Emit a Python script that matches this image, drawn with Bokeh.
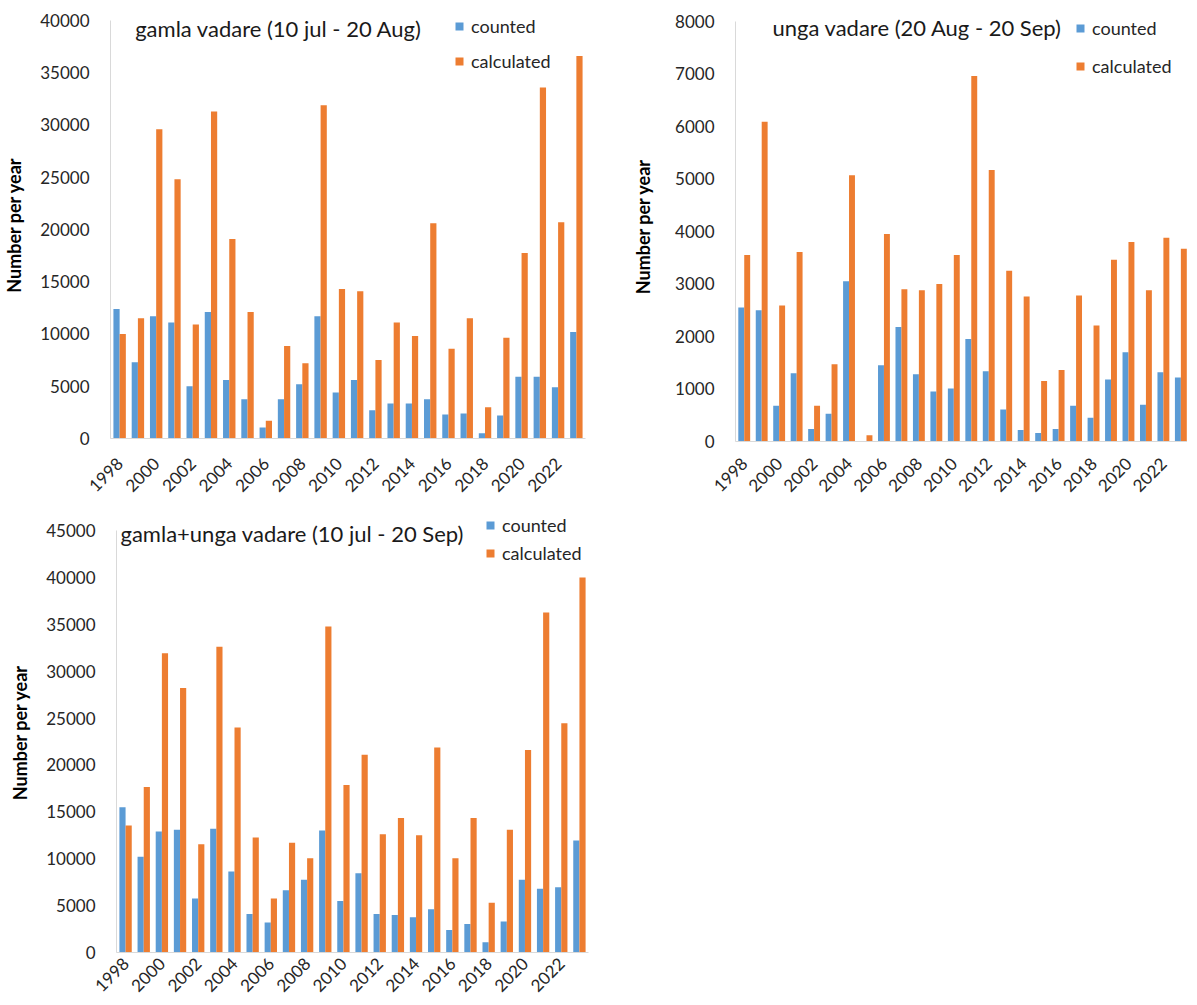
import math
from bokeh.plotting import figure
from bokeh.models import (Range1d, SingleIntervalTicker, FixedTicker, NumeralTickFormatter,
                          Legend, LegendItem, Label, ColumnDataSource)
from bokeh.layouts import row, column
from bokeh.transform import dodge
from bokeh.embed import file_html
from bokeh.resources import INLINE

years = list(range(1998, 2024))
tick_years = years[::2]

gamla_counted = [12400, 7300, 11700, 11100, 5000, 12100, 5600, 3750, 1050, 3750, 5200, 11700, 4400,
                 5600, 2700, 3350, 3350, 3750, 2300, 2400, 500, 2200, 5900, 5900, 4900, 10200]
gamla_calculated = [10000, 11500, 29600, 24800, 10900, 31300, 19100, 12100, 1700, 8850, 7200, 31900, 14300,
                    14100, 7500, 11100, 9800, 20600, 8600, 11500, 3000, 9650, 17750, 33600, 20700, 36600]

unga_counted = [2550, 2500, 680, 1300, 240, 530, 3050, 0, 1450, 2180, 1280, 950, 1010,
                1950, 1340, 610, 220, 160, 240, 680, 450, 1180, 1700, 700, 1320, 1220]
unga_calculated = [3550, 6090, 2590, 3610, 680, 1470, 5070, 120, 3950, 2900, 2880, 3000, 3550,
                   6960, 5170, 3250, 2760, 1150, 1360, 2780, 2210, 3460, 3800, 2880, 3880, 3670]

both_counted = [15500, 10200, 12900, 13100, 5750, 13200, 8650, 4100, 3200, 6650, 7750, 13000, 5500,
                8450, 4100, 4000, 3750, 4600, 2400, 3050, 1100, 3300, 7750, 6800, 6950, 11950]
both_calculated = [13550, 17650, 31900, 28200, 11550, 32600, 24000, 12250, 5750, 11700, 10050, 34750, 17850,
                   21100, 12600, 14350, 12500, 21850, 10050, 14350, 5300, 13100, 21600, 36250, 24450, 40000]

titles = ["gamla vadare (10 jul - 20 Aug)", "unga vadare (20 Aug - 20 Sep)",
          "gamla+unga vadare (10 jul - 20 Sep)"]
series_names = ["counted", "calculated"]
y_label = "Number per year"

FONT = "Lato"
BLUE = "#5B9BD5"
ORANGE = "#ED7D31"
TXT = "#262626"
AXIS = "#D9D9D9"


def make_panel(title, counted, calculated, ymax, yend, yint, xend, fw, fh, bl, br, bt, bb,
               tx, ty, lx, ly, lspacing, xstand, ylab_stand):
    src = ColumnDataSource(dict(year=years, counted=counted, calculated=calculated))
    p = figure(frame_width=fw, frame_height=fh, min_border_left=bl, min_border_right=br,
               min_border_top=bt, min_border_bottom=bb,
               x_range=Range1d(1997.5, xend), y_range=Range1d(0, yend),
               output_backend="svg", toolbar_location=None)
    r1 = p.vbar(x=dodge('year', -0.17), top='counted', width=0.34, source=src,
                fill_color=BLUE, line_color=None)
    r2 = p.vbar(x=dodge('year', 0.17), top='calculated', width=0.34, source=src,
                fill_color=ORANGE, line_color=None)
    p.xgrid.visible = False
    p.ygrid.visible = False
    p.outline_line_color = None

    xa = p.xaxis[0]
    xa.ticker = FixedTicker(ticks=tick_years)
    xa.major_label_orientation = math.pi / 4
    xa.major_tick_line_color = None
    xa.minor_tick_line_color = None
    xa.axis_line_color = AXIS
    xa.major_label_text_font = FONT
    xa.major_label_text_font_size = "17px"
    xa.major_label_text_color = TXT
    xa.major_label_standoff = xstand

    ya = p.yaxis[0]
    ya.ticker = SingleIntervalTicker(interval=yint)
    ya.formatter = NumeralTickFormatter(format="0")
    ya.bounds = (0, ymax)
    ya.major_tick_line_color = None
    ya.minor_tick_line_color = None
    ya.axis_line_color = AXIS
    ya.major_label_text_font = FONT
    ya.major_label_text_font_size = "17px"
    ya.major_label_text_color = TXT
    ya.major_label_standoff = 15
    ya.axis_label = y_label
    ya.axis_label_text_font = FONT
    ya.axis_label_text_font_size = "18px"
    ya.axis_label_text_font_style = "bold"
    ya.axis_label_text_color = "#000000"
    ya.axis_label_standoff = ylab_stand

    p.add_layout(Label(x=tx, y=ty, text=title, text_font=FONT, text_font_size="22px",
                       text_baseline="middle", text_align="left", text_color="#1a1a1a"))

    legend = Legend(items=[LegendItem(label=series_names[0], renderers=[r1]),
                           LegendItem(label=series_names[1], renderers=[r2])],
                    location=(lx, ly), glyph_width=10, glyph_height=10, label_standoff=7,
                    label_height=22, spacing=lspacing, padding=0, margin=0,
                    border_line_color=None, background_fill_alpha=0,
                    label_text_font=FONT, label_text_font_size="18px", label_text_color=TXT)
    p.add_layout(legend)
    return p


p1 = make_panel(titles[0], gamla_counted, gamla_calculated, 40000, 40861, 5000, 2023.5,
                475, 427, 104, 41, 11, 59, 1998.85, 39234, 344, 366, 13, 16, 12)
p2 = make_panel(titles[1], unga_counted, unga_calculated, 8000, 8190, 1000, 2023.38,
                452, 430, 109, 0, 11, 56, 1999.62, 7886, 340, 364, 16, 13, 18)
p3 = make_panel(titles[2], both_counted, both_calculated, 45000, 46919, 5000, 2023.5,
                472, 440, 116, 32, 12, 45, 1997.72, 44680, 369, 388, 6, 2, 12)

layout = column(row(p1, p2), p3)

open("out.html", "w").write(file_html(layout, INLINE))
